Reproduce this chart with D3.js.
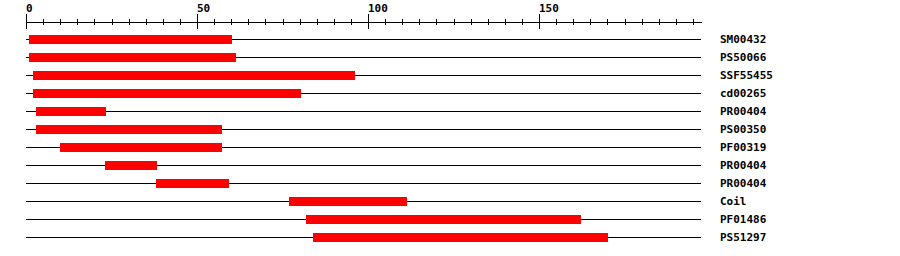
<!DOCTYPE html>
<html>
<head>
<meta charset="utf-8">
<script src="https://cdn.jsdelivr.net/npm/d3@7"></script>
<style>
  body { margin: 0; background: #fff; }
  svg { display: block; }
  text { font-family: "DejaVu Sans Mono", monospace; font-weight: bold; }
</style>
</head>
<body>
<script>
// Feature names, start and end positions (residues)
const features = ["SM00432", "PS50066", "SSF55455", "cd00265", "PR00404", "PS00350",
                  "PF00319", "PR00404", "PR00404", "Coil", "PF01486", "PS51297"];
const starts = [1, 1, 2, 2, 3, 3, 10, 23, 38, 77, 82, 84];
const ends   = [60, 61, 96, 80, 23, 57, 57, 38, 59, 111, 162, 170];

const seqLength = 197.5;
const majorTicks = [0, 50, 100, 150];
const minorTicks = d3.range(0, 200, 5);

const width = 900, height = 256;
const axisY = 21;
const rowTop = 39, rowStep = 18;

const svg = d3.select("body")
    .append("svg")
    .attr("width", width)
    .attr("height", height);

const x = d3.scaleLinear()
    .domain([0, seqLength])
    .range([26, 26 + seqLength * 3.42]);

const y = d3.scalePoint()
    .domain(d3.range(features.length))
    .range([rowTop, rowTop + rowStep * (features.length - 1)]);

// Ruler: minor ticks above and below, major ticks longer
const axisG = svg.append("g").attr("transform", `translate(0,${axisY + 0.5})`);

axisG.append("g")
    .call(d3.axisTop(x).tickValues(minorTicks).tickSize(3).tickSizeOuter(0).tickFormat(""));
axisG.append("g")
    .call(d3.axisBottom(x).tickValues(minorTicks).tickSize(3).tickFormat(""))
    .select(".domain").remove();
axisG.append("g")
    .call(d3.axisTop(x).tickValues(majorTicks).tickSize(8).tickFormat(d3.format("d")))
    .call(g => g.select(".domain").remove())
    .call(g => g.selectAll("text")
        .attr("text-anchor", "start")
        .attr("x", -0.5)
        .attr("y", -9.5)
        .attr("dy", null)
        .attr("font-size", "11px")
        .attr("font-family", null)
        .attr("fill", "#000"));
axisG.append("g")
    .call(d3.axisBottom(x).tickValues(majorTicks).tickSize(7).tickFormat(""))
    .select(".domain").remove();

axisG.selectAll("path, line").attr("stroke", "#000").attr("shape-rendering", "crispEdges");

// Rows
const rows = svg.selectAll(".row")
    .data(features)
    .enter()
    .append("g")
    .attr("class", "row");

rows.append("line")
    .attr("x1", 25.5)
    .attr("x2", x(seqLength))
    .attr("y1", (d, i) => y(i) + 0.5)
    .attr("y2", (d, i) => y(i) + 0.5)
    .attr("stroke", "#000")
    .attr("shape-rendering", "crispEdges");

// end residue is drawn inclusive, hence the extra pixel
rows.append("rect")
    .attr("x", (d, i) => x(starts[i]))
    .attr("width", (d, i) => x(ends[i]) - x(starts[i]) + 1)
    .attr("y", (d, i) => y(i) - 4)
    .attr("height", 9)
    .attr("fill", "#ff0000")
    .attr("shape-rendering", "crispEdges");

rows.append("text")
    .attr("x", 720)
    .attr("y", (d, i) => y(i) + 4)
    .attr("font-size", "11px")
    .attr("fill", "#000")
    .text(d => d);
</script>
</body>
</html>
